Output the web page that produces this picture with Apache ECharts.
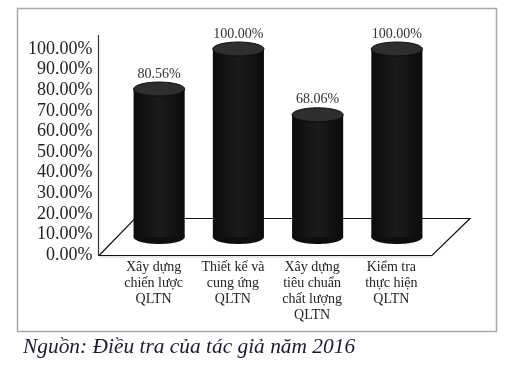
<!DOCTYPE html>
<html>
<head>
<meta charset="utf-8">
<script src="https://cdn.jsdelivr.net/npm/echarts@6/dist/echarts.min.js"></script>
<style>
html,body{margin:0;padding:0;background:#fff;}
#main{width:505px;height:368px;}
</style>
</head>
<body>
<div id="main"></div>
<script>
const categories = ['Xây dựng\nchiến lược\nQLTN', 'Thiết kế và\ncung ứng\nQLTN', 'Xây dựng\ntiêu chuẩn\nchất lượng\nQLTN', 'Kiểm tra\nthực hiện\nQLTN'];
const values = [80.56, 100.00, 68.06, 100.00];
const yMin = 0, yMax = 100, yStep = 10;
const caption = 'Nguồn: Điều tra của tác giả năm 2016';

const serif = '"Liberation Serif", "Times New Roman", serif';

function renderCylinder(params, api) {
  const idx = api.value(0);
  const val = api.value(1);
  const top = api.coord([idx, val]);
  const base = api.coord([idx, 0]);
  const bw = api.size([1, 0])[0] * 0.645;
  const rx = bw / 2, ry = 7;
  const cx = top[0];
  const topY = top[1];
  const botY = base[1] - 18;
  const body = new echarts.graphic.LinearGradient(0, 0, 1, 0, [
    {offset: 0, color: '#0b0b0b'},
    {offset: 0.5, color: '#1b1b1b'},
    {offset: 1, color: '#0b0b0b'}
  ]);
  return {
    type: 'group',
    children: [
      {type: 'ellipse', shape: {cx: cx, cy: botY, rx: rx, ry: ry}, style: {fill: '#0e0e0e'}},
      {type: 'rect', shape: {x: cx - rx, y: topY, width: bw, height: botY - topY}, style: {fill: body}},
      {type: 'ellipse', shape: {cx: cx, cy: topY, rx: rx, ry: ry}, style: {fill: '#2e2e2e', stroke: '#0e0e0e', lineWidth: 1}},
      {type: 'text', x: cx, y: topY - ry - 1, style: {
        text: val.toFixed(2) + '%', fill: '#333', font: '14px ' + serif,
        align: 'center', verticalAlign: 'bottom'
      }}
    ]
  };
}

const chart = echarts.init(document.getElementById('main'), null, {renderer: 'canvas'});
chart.setOption({
  backgroundColor: '#fff',
  animation: false,
  grid: {left: 119.5, right: 68.5, top: 49, bottom: 113},
  xAxis: {
    type: 'category',
    data: categories,
    axisLine: {show: false},
    axisTick: {show: false},
    axisLabel: {
      interval: 0, margin: 4, color: '#222', fontFamily: serif, fontSize: 14,
      lineHeight: 16, padding: [0, 11, 0, 0], verticalAlign: 'top'
    }
  },
  yAxis: {
    type: 'value',
    min: yMin, max: yMax, interval: yStep,
    offset: 20,
    axisLine: {show: false},
    axisTick: {show: false},
    splitLine: {show: false},
    axisLabel: {
      margin: 7, color: '#222', fontFamily: serif, fontSize: 18,
      formatter: v => v.toFixed(2) + '%'
    }
  },
  graphic: [
    {type: 'rect', z: 0, shape: {x: 17.5, y: 8.5, width: 479, height: 323},
      style: {fill: 'none', stroke: '#a9a9a9', lineWidth: 1.5}},
    {type: 'polyline', z: 0, shape: {points: [[99, 257], [432, 257]]},
      style: {stroke: '#cfcfcf', lineWidth: 1}},
    {type: 'polygon', z: 0, shape: {points: [[99, 255.5], [432, 255.5], [470, 218.5], [135, 218.5]]},
      style: {fill: '#fff', stroke: '#111', lineWidth: 1.2}},
    {type: 'line', z: 0, shape: {x1: 98.5, y1: 35, x2: 98.5, y2: 256},
      style: {stroke: '#333', lineWidth: 1.2}},
    {type: 'text', z: 1, left: 23, top: 337, style: {
      text: caption, fill: '#1b1b30', font: 'italic 21.4px ' + serif
    }}
  ],
  series: [{
    type: 'custom',
    z: 5,
    renderItem: renderCylinder,
    encode: {x: 0, y: 1},
    data: values.map((v, i) => [i, v])
  }]
});
</script>
</body>
</html>
